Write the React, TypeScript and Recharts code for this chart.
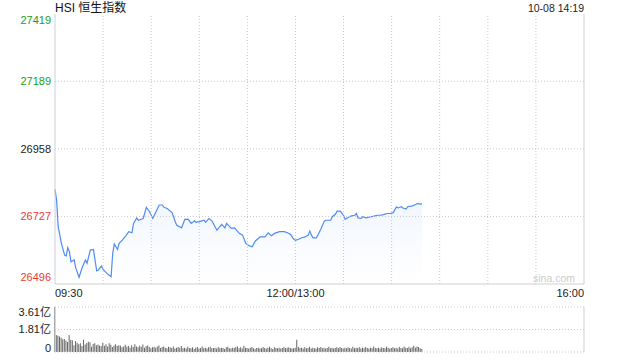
import {
  ComposedChart,
  Area,
  BarChart,
  Bar,
  XAxis,
  YAxis,
  ReferenceLine,
} from 'recharts';

// minute offset from 09:30 (morning 0-150, afternoon 150-330)
const minutes = [
  0, 1, 2, 4, 6, 7, 8, 9, 10, 12, 13, 15, 17, 19, 20, 22, 24, 26, 27, 29, 30, 33, 35, 36, 37,
  39, 40, 42, 44, 46, 48, 49, 51, 52, 55, 57, 59, 61, 63, 65, 67, 68, 70, 73, 74, 75, 76, 79,
  81, 83, 85, 87, 88, 90, 93, 94, 96, 98, 101, 104, 106, 107, 110, 112, 115, 117, 119, 121,
  123, 125, 128, 131, 133, 135, 137, 140, 143, 145, 147, 149, 150, 152, 154, 156, 158, 159,
  160, 161, 163, 164, 166, 168, 169, 172, 173, 175, 176, 178, 180, 181, 183, 185, 187, 188,
  189, 191, 192, 194, 197, 199, 201, 203, 205, 207, 209, 211, 213, 214, 216, 217, 219, 220,
  223, 225, 226, 228, 229,
];
const prices = [
  26819, 26783, 26692, 26635, 26595, 26592, 26620, 26606, 26572, 26578, 26550, 26519, 26553,
  26578, 26567, 26612, 26614, 26541, 26544, 26557, 26546, 26529, 26521, 26601, 26633, 26614,
  26635, 26646, 26660, 26675, 26671, 26703, 26722, 26714, 26720, 26758, 26743, 26720, 26743,
  26766, 26766, 26758, 26754, 26740, 26726, 26709, 26697, 26688, 26717, 26718, 26703, 26712,
  26707, 26709, 26714, 26707, 26720, 26711, 26680, 26700, 26688, 26703, 26686, 26688, 26669,
  26663, 26635, 26627, 26623, 26643, 26657, 26657, 26671, 26661, 26669, 26675, 26675, 26671,
  26665, 26649, 26645, 26649, 26654, 26657, 26663, 26677, 26663, 26654, 26654, 26663, 26686,
  26711, 26714, 26714, 26726, 26735, 26745, 26745, 26731, 26717, 26724, 26729, 26731, 26737,
  26722, 26720, 26726, 26722, 26726, 26728, 26731, 26731, 26733, 26737, 26737, 26740, 26760,
  26756, 26760, 26756, 26752, 26760, 26763, 26768, 26771, 26769, 26770,
];

// volume per minute, 亿
const volumes = [
  3.61, 1.36, 1.3, 1.25, 1.15, 1.02, 1.05, 0.92, 0.8, 1.36, 0.98,
  0.95, 0.55, 0.88, 0.75, 0.62, 0.7, 0.48, 0.98, 0.6, 0.72,
  0.82, 0.78, 0.42, 0.65, 0.7, 0.55, 0.6, 0.52, 0.48, 0.75,
  0.5, 0.62, 0.45, 0.7, 0.58, 0.4, 0.52, 0.62, 0.48, 0.55,
  0.5, 0.38, 0.45, 0.58, 0.42, 0.48, 0.35, 0.55, 0.4, 0.62,
  0.45, 0.38, 0.5, 0.42, 0.6, 0.35, 0.48, 0.52, 0.4, 0.3,
  0.38, 0.42, 0.35, 0.45, 0.52, 0.32, 0.4, 0.45, 0.35, 0.3,
  0.42, 0.38, 0.32, 0.45, 0.28, 0.35, 0.4, 0.32, 0.48, 0.3,
  0.35, 0.28, 0.42, 0.32, 0.3, 0.38, 0.25, 0.35, 0.4, 0.28,
  0.32, 0.45, 0.3, 0.35, 0.28, 0.38, 0.42, 0.3, 0.32, 0.35,
  0.28, 0.4, 0.3, 0.35, 0.32, 0.25, 0.38, 0.42, 0.3, 0.28,
  0.35, 0.32, 0.4, 0.45, 0.3, 0.38, 0.28, 0.5, 0.35, 0.32,
  0.28, 0.35, 0.4, 0.3, 0.25, 0.32, 0.35, 0.28, 0.3, 0.4,
  0.32, 0.28, 0.35, 0.42, 0.3, 0.25, 0.38, 0.32, 0.3, 0.35,
  0.28, 0.32, 0.4, 0.3, 0.35, 0.38, 0.32, 0.28, 0.3, 0.35,
  0.98, 0.4, 0.32, 0.35, 0.28, 0.38, 0.3, 0.32, 0.42, 0.28,
  0.35, 0.3, 0.28, 0.38, 0.32, 0.4, 0.3, 0.35, 0.28, 0.32,
  0.42, 0.3, 0.35, 0.28, 0.32, 0.38, 0.3, 0.4, 0.32, 0.28,
  0.35, 0.3, 0.38, 0.32, 0.28, 0.42, 0.3, 0.35, 0.32, 0.38,
  0.28, 0.35, 0.3, 0.4, 0.32, 0.28, 0.35, 0.3, 0.45, 0.32,
  0.3, 0.35, 0.28, 0.38, 0.32, 0.3, 0.42, 0.35, 0.28, 0.32,
  0.38, 0.3, 0.35, 0.28, 0.4, 0.32, 0.3, 0.45, 0.35, 0.32,
  0.42, 0.3, 0.38, 0.5, 0.35, 0.45, 0.4, 0.3, 0.25,
];

const prevClose = 26958;
const priceTicks = [26496, 26727, 26958, 27189, 27419];
const volTicks = [0, 1.81, 3.61];
const gridMinutes = [30, 60, 90, 120, 150, 180, 210, 240, 270, 300];
const timeTicks = [0, 150, 330];
const timeLabels = ['09:30', '12:00/13:00', '16:00'];

const FONT = '"Liberation Sans", Arial, "Noto Sans CJK SC", sans-serif';
const GREEN = '#1a9e1a';
const RED = '#f03a30';
const GRID = '#c8c8c8';
const BORDER = '#cfcfcf';

const priceData = minutes.map((m, i) => ({ m, price: prices[i] }));
const volData = volumes.map((v, i) => ({ m: i, v }));

const colorFor = (v: number) => (v > prevClose ? GREEN : v < prevClose ? RED : '#222');

const shiftFor = (v: number, lo: number, hi: number) => (v === hi ? 6 : v === lo ? -7 : 0);

const LeftPriceTick = (props: any) => {
  const v = props.payload.value;
  return (
    <text x={51} y={props.y + shiftFor(v, 26496, 27419)} dy="0.35em" textAnchor="end"
      fontSize={11} fontFamily={FONT} fill={colorFor(v)}>
      {v}
    </text>
  );
};

const RightPriceTick = (props: any) => {
  const v = props.payload.value;
  const pct = ((v - prevClose) / prevClose) * 100;
  const s = (pct > 0.001 ? '+' : '') + pct.toFixed(2) + '%';
  return (
    <text x={590} y={props.y + shiftFor(v, 26496, 27419)} dy="0.35em" textAnchor="start"
      fontSize={11} fontFamily={FONT} fill={colorFor(v)}>
      {s === '-0.00%' ? '0.00%' : s}
    </text>
  );
};

const TimeTick = (props: any) => {
  const i = timeTicks.indexOf(props.payload.value);
  const anchor = i === 0 ? 'start' : i === 2 ? 'end' : 'middle';
  return (
    <text x={props.x} y={293} dy="0.35em" textAnchor={anchor} fontSize={11}
      fontFamily={FONT} fill="#222">
      {timeLabels[i]}
    </text>
  );
};

const VolTick = (props: any) => {
  const v = props.payload.value;
  const dy = v === 3.61 ? 5 : v === 0 ? -4 : 0;
  return (
    <text x={51} y={props.y + dy} dy="0.35em" textAnchor="end" fontSize={11}
      fontFamily={FONT} fill="#222">
      {v === 0 ? '0' : v.toFixed(2) + '亿'}
    </text>
  );
};

export default function App() {
  return (
    <div style={{ position: 'absolute', left: 0, top: 0, width: 640, height: 360, background: '#fff', fontFamily: FONT }}>
      <div style={{ position: 'absolute', left: 55, top: 0, fontSize: 12, lineHeight: '16px', color: '#111' }}>
        HSI 恒生指数
      </div>
      <div style={{ position: 'absolute', right: 56, top: 1, fontSize: 10.5, lineHeight: '15px', color: '#222' }}>
        10-08 14:19
      </div>
      <div style={{ position: 'absolute', left: 0, top: 0 }}>
        <ComposedChart width={640} height={300} data={priceData}
          margin={{ top: 14, right: 0, bottom: 0, left: 0 }}>
          <defs>
            <linearGradient id="priceFill" x1="0" y1="0" x2="0" y2="1">
              <stop offset="0%" stopColor="#dce8fc" stopOpacity={0.8} />
              <stop offset="100%" stopColor="#ffffff" stopOpacity={0.6} />
            </linearGradient>
          </defs>
          <XAxis dataKey="m" type="number" domain={[0, 330]} ticks={timeTicks}
            tick={TimeTick} tickLine={false} axisLine={{ stroke: BORDER }} height={16}
            interval={0} />
          <YAxis yAxisId="l" domain={[26496, 27419]} ticks={priceTicks} tick={LeftPriceTick}
            tickLine={false} axisLine={{ stroke: BORDER }} width={55} interval={0} />
          <YAxis yAxisId="r" orientation="right" domain={[26496, 27419]} ticks={priceTicks}
            tick={RightPriceTick} tickLine={false} axisLine={{ stroke: BORDER }} width={56}
            interval={0} />
          {gridMinutes.map((g) => (
            <ReferenceLine key={g} yAxisId="l" x={g} stroke={GRID} strokeDasharray="1 2" />
          ))}
          {priceTicks.slice(1, 4).map((p) => (
            <ReferenceLine key={p} yAxisId="l" y={p} stroke={GRID} strokeDasharray="1 2" />
          ))}
          <Area yAxisId="l" type="linear" dataKey="price" stroke="#4f8cf3" strokeWidth={1.2}
            fill="url(#priceFill)" isAnimationActive={false} dot={false} activeDot={false} />
        </ComposedChart>
      </div>
      <div style={{ position: 'absolute', left: 533, top: 272, fontSize: 10.5, color: '#cccccc' }}>
        sina.com
      </div>
      <div style={{ position: 'absolute', left: 0, top: 300 }}>
        <BarChart width={640} height={60} data={volData}
          margin={{ top: 7, right: 56, bottom: 8, left: 0 }}>
          <XAxis dataKey="m" type="number" domain={[0, 330]} hide />
          <YAxis domain={[0, 3.61]} ticks={volTicks} tick={VolTick} tickLine={false}
            axisLine={{ stroke: BORDER }} width={55} interval={0} />
          {volTicks.map((t) => (
            <ReferenceLine key={t} y={t} stroke={GRID} strokeDasharray="1 2" />
          ))}
          <ReferenceLine x={330} stroke={BORDER} />
          <Bar dataKey="v" fill="#666" barSize={1} isAnimationActive={false} />
        </BarChart>
      </div>
    </div>
  );
}
